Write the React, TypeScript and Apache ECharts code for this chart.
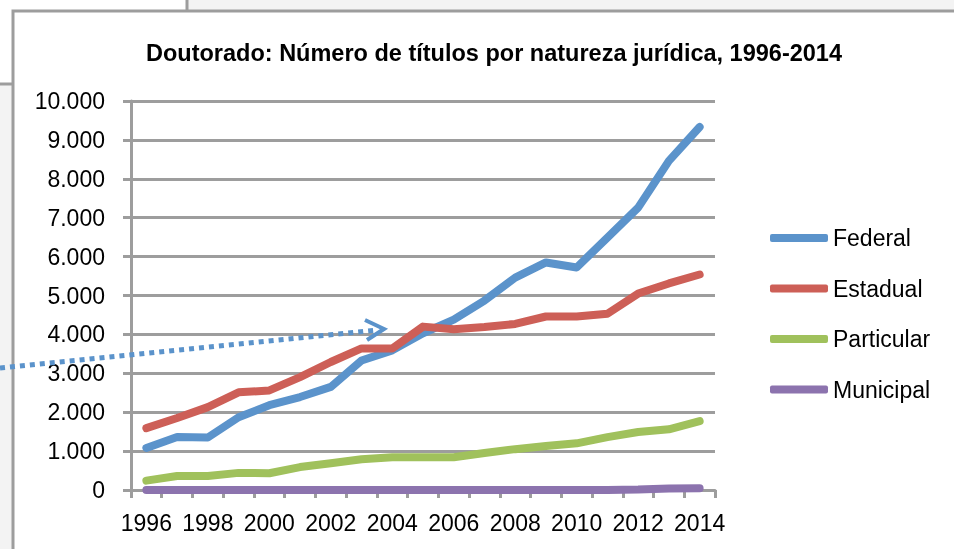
import React, { useEffect, useRef } from "react";
import * as echarts from "echarts";

const years = ["1996","1997","1998","1999","2000","2001","2002","2003","2004","2005","2006","2007","2008","2009","2010","2011","2012","2013","2014"];
const federal = [1080, 1360, 1350, 1870, 2180, 2390, 2650, 3330, 3590, 4030, 4380, 4870, 5460, 5850, 5720, 6490, 7260, 8460, 9330];
const estadual = [1590, 1850, 2130, 2510, 2560, 2900, 3290, 3640, 3640, 4200, 4130, 4190, 4270, 4460, 4460, 4530, 5050, 5310, 5540];
const particular = [240, 360, 360, 440, 430, 590, 690, 790, 840, 840, 840, 950, 1050, 1130, 1200, 1360, 1490, 1560, 1770];
const municipal = [0, 0, 0, 0, 0, 0, 0, 0, 0, 0, 0, 0, 0, 0, 0, 0, 10, 40, 45];
const yTicks = { min: 0, max: 10000, interval: 1000 };

const FONT = "'Liberation Sans', Arial, sans-serif";
const GRID = "#9d9d9d";

function fmt(v: number) {
  return String(v).replace(/\B(?=(\d{3})+(?!\d))/g, ".");
}

export default function App() {
  const ref = useRef<HTMLDivElement>(null);
  useEffect(() => {
    document.body.style.margin = "0";
    const chart = echarts.init(ref.current!, undefined, { renderer: "svg" });
    const mk = (name: string, data: number[], color: string) => ({
      name,
      type: "line",
      data,
      symbol: "none",
      showSymbol: false,
      color,
      lineStyle: { width: 8, color, cap: "round", join: "round" },
    });
    chart.setOption({
      animation: false,
      backgroundColor: "transparent",
      textStyle: { fontFamily: FONT },
      title: {
        text: "Doutorado: Número de títulos por natureza jurídica, 1996-2014",
        left: 141,
        top: 36,
        textStyle: { fontFamily: FONT, fontWeight: "bold", fontSize: 23.5, color: "#000" },
      },
      legend: {
        orient: "vertical",
        left: 765,
        top: 221,
        itemWidth: 58,
        itemHeight: 8,
        itemGap: 26.5,
        itemTextGap: 4,
        icon: "roundRect",
        textStyle: { fontFamily: FONT, fontSize: 23, color: "#000", lineHeight: 24 },
        data: ["Federal", "Estadual", "Particular", "Municipal"],
      },
      grid: { left: 131, right: 239, top: 101, bottom: 59, containLabel: false },
      xAxis: {
        type: "category",
        data: years,
        boundaryGap: true,
        axisLine: { show: true, lineStyle: { color: GRID, width: 3 } },
        axisTick: { show: true, interval: 0, length: 8, lineStyle: { color: GRID, width: 3 } },
        axisLabel: { interval: 1, fontSize: 23, color: "#000", margin: 21, fontFamily: FONT },
        splitLine: { show: false },
      },
      yAxis: {
        type: "value",
        min: yTicks.min,
        max: yTicks.max,
        interval: yTicks.interval,
        axisLine: { show: true, lineStyle: { color: GRID, width: 3 } },
        axisTick: { show: true, length: 8, lineStyle: { color: GRID, width: 3 } },
        axisLabel: { fontSize: 23, color: "#000", margin: 26, fontFamily: FONT, formatter: (v: number) => fmt(v) },
        splitLine: { show: true, lineStyle: { color: GRID, width: 3 } },
      },
      series: [
        mk("Federal", federal, "#5b93cb"),
        mk("Estadual", estadual, "#cd5f57"),
        mk("Particular", particular, "#a0c15c"),
        mk("Municipal", municipal, "#8c73ae"),
      ],
      graphic: [
        { type: "rect", z: -100, silent: true, shape: { x: 0, y: 0, width: 954, height: 549 }, style: { fill: "#f3f3f3" } },
        { type: "rect", z: -99, silent: true, shape: { x: -10, y: -10, width: 197, height: 94 }, style: { fill: "#ffffff", stroke: GRID, lineWidth: 3 } },
        { type: "rect", z: -98, silent: true, shape: { x: 13, y: 11, width: 960, height: 560 }, style: { fill: "#ffffff", stroke: GRID, lineWidth: 3 } },
        { type: "polyline", z: 100, silent: true, shape: { points: [[0, 368], [378, 330]] }, style: { stroke: "#5b93cb", lineWidth: 5, lineDash: [5, 5], fill: null } },
        { type: "polyline", z: 100, silent: true, shape: { points: [[365, 320], [384, 329], [367, 340]] }, style: { stroke: "#5b93cb", lineWidth: 4, fill: null } },
      ],
    });
    return () => chart.dispose();
  }, []);
  return <div ref={ref} style={{ position: "fixed", left: 0, top: 0, width: 954, height: 549 }} />;
}
